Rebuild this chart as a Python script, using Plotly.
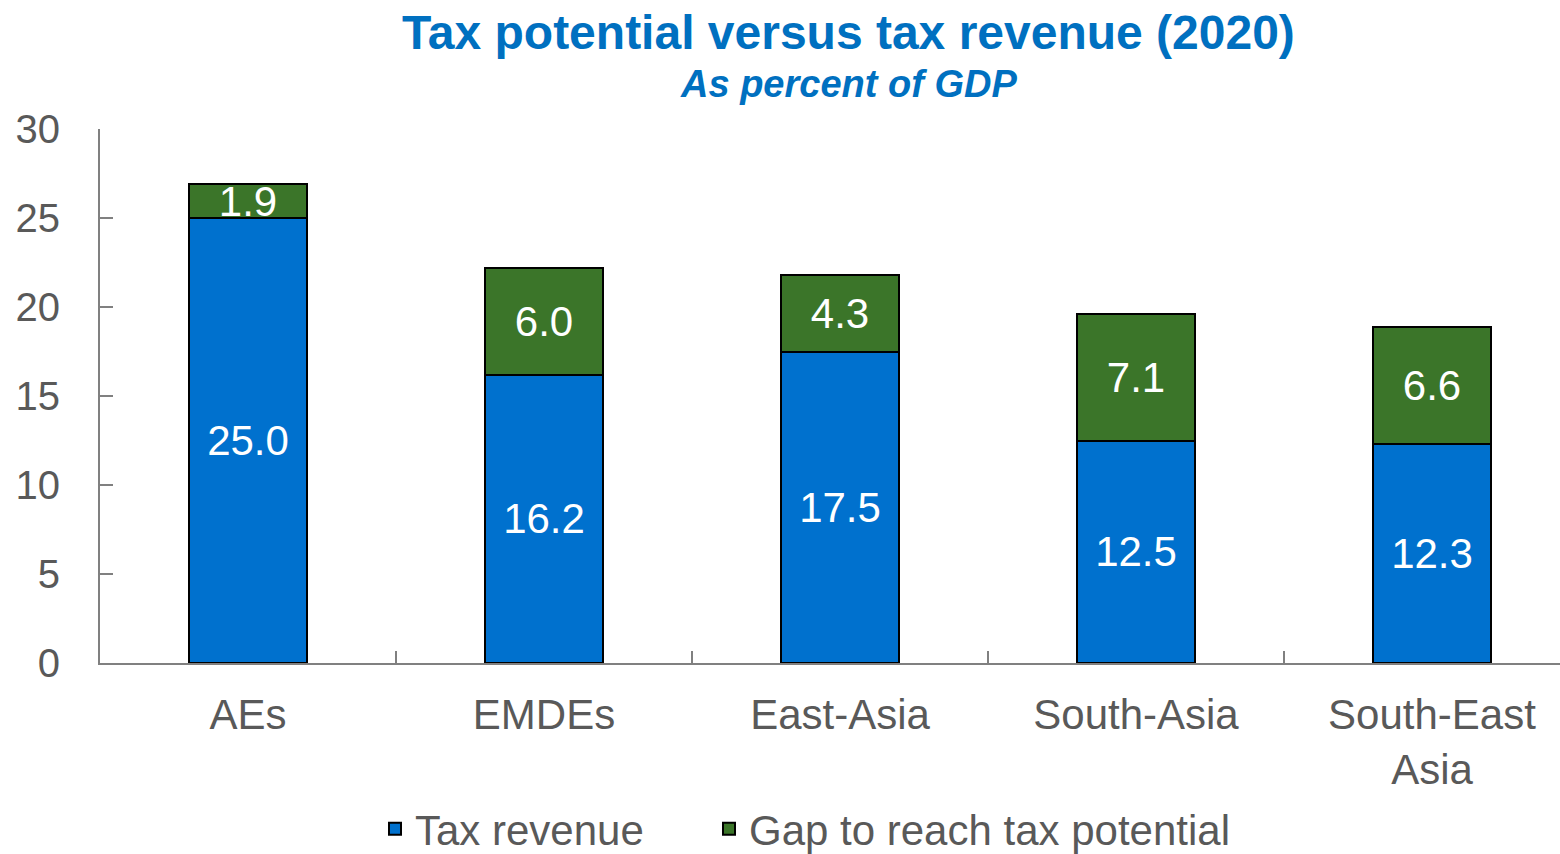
import plotly.graph_objects as go

categories = ["AEs", "EMDEs", "East-Asia", "South-Asia", "South-East<br>Asia"]
tax_revenue = [25.0, 16.2, 17.5, 12.5, 12.3]
gap_to_potential = [1.9, 6.0, 4.3, 7.1, 6.6]
y_ticks = [0, 5, 10, 15, 20, 25, 30]

FONT = "Liberation Sans, Arial, sans-serif"
BLUE = "#0071CE"
GREEN = "#3B7529"
GREY_TXT = "#595959"
AXIS = "#808080"
W, H = 1560, 854
L, R, T, B = 100, 0, 129, 191
PW, PH = W - L - R, H - T - B

fig = go.Figure()
fig.add_trace(go.Bar(
    x=categories, y=tax_revenue, name="Tax revenue", legend="legend",
    marker=dict(color=BLUE, line=dict(color="black", width=2)),
    text=[f"{v:.1f}" for v in tax_revenue], textposition="inside",
    insidetextanchor="middle", constraintext="none",
    textfont=dict(color="white", size=42, family=FONT),
    width=0.4,
))
fig.add_trace(go.Bar(
    x=categories, y=gap_to_potential, name="Gap to reach tax potential", legend="legend2",
    marker=dict(color=GREEN, line=dict(color="black", width=2)),
    text=[f"{v:.1f}" for v in gap_to_potential], textposition="inside",
    insidetextanchor="middle", constraintext="none",
    textfont=dict(color="white", size=42, family=FONT),
    width=0.4,
))

legend_common = dict(orientation="h", xref="container", yref="container",
                     xanchor="left", yanchor="middle", y=1 - 829 / H,
                     font=dict(size=42, color=GREY_TXT, family=FONT),
                     bgcolor="rgba(0,0,0,0)")

fig.update_layout(
    barmode="stack",
    width=W, height=H,
    margin=dict(l=L, r=R, t=T, b=B, autoexpand=False),
    paper_bgcolor="white", plot_bgcolor="white",
    font=dict(family=FONT, color=GREY_TXT, size=42),
    showlegend=True,
    legend=dict(x=375 / W, **legend_common),
    legend2=dict(x=709 / W, **legend_common),
    xaxis=dict(
        type="category", range=[-0.5, -0.5 + PW / 296], showline=True, linecolor=AXIS, linewidth=2,
        ticks="inside", tickson="boundaries", ticklen=12, tickcolor=AXIS, tickwidth=2,
        tickfont=dict(size=42, color=GREY_TXT, family=FONT), ticklabelstandoff=14,
        showgrid=False, zeroline=False, automargin=False,
    ),
    yaxis=dict(
        range=[0, 30], tickvals=y_ticks, showline=True, linecolor=AXIS, linewidth=2,
        ticks="inside", ticklen=13, tickcolor=AXIS, tickwidth=2,
        tickfont=dict(size=40, color=GREY_TXT, family=FONT), ticklabelstandoff=30,
        showgrid=False, zeroline=False, automargin=False,
    ),
)

fig.add_annotation(text="<b>Tax potential versus tax revenue (2020)</b>", xref="paper", yref="paper",
                   x=(848 - L) / PW, y=1 + (T - 32) / PH, xanchor="center", yanchor="middle",
                   showarrow=False, font=dict(size=48, color="#0070C0", family=FONT))
fig.add_annotation(text="<b><i>As percent of GDP</i></b>", xref="paper", yref="paper",
                   x=(848 - L) / PW, y=1 + (T - 84) / PH, xanchor="center", yanchor="middle",
                   showarrow=False, font=dict(size=38, color="#0070C0", family=FONT))

fig.write_html("out.html", config={"displayModeBar": False},
               post_script="document.body.style.margin='0';document.body.style.overflow='hidden';")
